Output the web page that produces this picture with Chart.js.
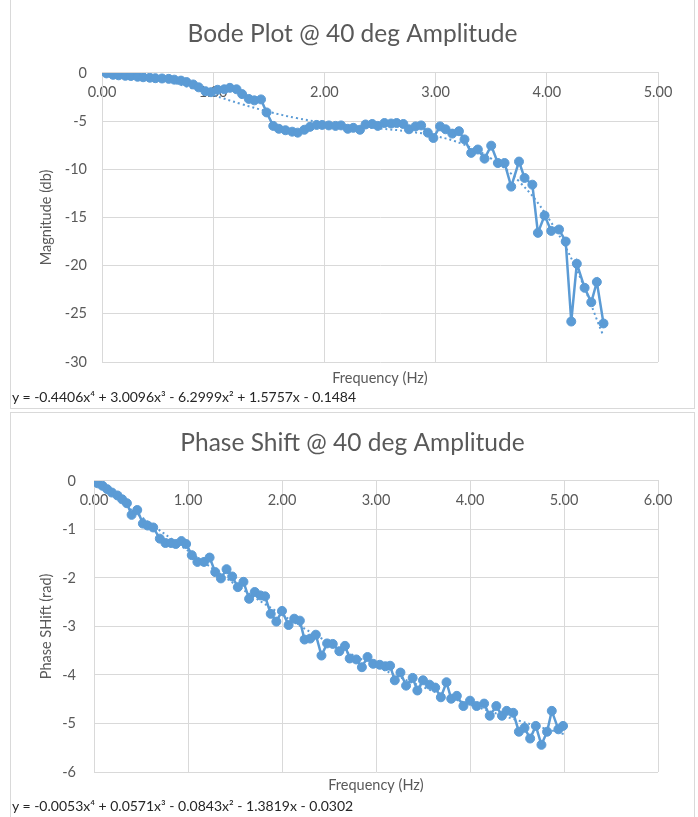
<!DOCTYPE html>
<html>
<head>
<meta charset="utf-8">
<title>Bode Plot @ 40 deg Amplitude</title>
<script src="https://cdn.jsdelivr.net/npm/chart.js@4.4.1/dist/chart.umd.min.js"></script>
<style>
  body { margin: 0; width: 698px; height: 817px; background: #fff; position: relative; overflow: hidden; font-family: Lato, sans-serif; }
  .frame { position: absolute; left: 10px; width: 685px; border: 1px solid #d9d9d9; box-sizing: border-box; }
  #frameTop { top: -1px; height: 410px; }
  #frameBot { top: 412px; height: 410px; }
  canvas { position: absolute; left: 10px; }
  #magChart { top: 0; }
  #phaseChart { top: 412px; }
  .eq { position: absolute; left: 12px; font-size: 14px; color: #262626; white-space: nowrap; line-height: 16px; }
</style>
</head>
<body>
<div class="frame" id="frameTop"></div>
<div class="frame" id="frameBot"></div>
<canvas id="magChart" width="685" height="408"></canvas>
<canvas id="phaseChart" width="685" height="405"></canvas>
<div class="eq" style="top:389px">y = -0.4406x⁴ + 3.0096x³ - 6.2999x² + 1.5757x - 0.1484</div>
<div class="eq" style="top:798px">y = -0.0053x⁴ + 0.0571x³ - 0.0843x² - 1.3819x - 0.0302</div>
<script>
// magnitude data (Hz, db)
const freqTop = [0.04,0.10,0.15,0.21,0.26,0.32,0.37,0.43,0.48,0.54,
  0.60,0.65,0.71,0.76,0.82,0.87,0.93,0.98,1.04,1.10,
  1.15,1.21,1.26,1.32,1.37,1.43,1.48,1.54,1.59,1.65,
  1.71,1.76,1.82,1.87,1.93,1.98,2.04,2.10,2.15,2.21,
  2.26,2.32,2.37,2.43,2.48,2.54,2.60,2.65,2.71,2.76,
  2.82,2.87,2.93,2.98,3.04,3.09,3.15,3.21,3.26,3.32,
  3.38,3.44,3.50,3.56,3.62,3.68,3.75,3.80,3.87,3.92,
  3.98,4.04,4.11,4.17,4.22,4.27,4.34,4.40,4.45,4.51];
const magTop = [-0.05,-0.20,-0.25,-0.30,-0.32,-0.40,-0.45,-0.50,-0.55,-0.58,
  -0.62,-0.70,-0.80,-0.95,-1.20,-1.50,-1.90,-2.00,-1.75,-1.70,
  -1.55,-1.70,-2.20,-2.70,-2.85,-2.75,-4.10,-5.50,-5.80,-5.95,
  -6.10,-6.20,-5.90,-5.60,-5.40,-5.40,-5.45,-5.50,-5.45,-5.80,
  -5.70,-5.90,-5.35,-5.30,-5.50,-5.20,-5.25,-5.20,-5.30,-5.85,
  -5.55,-5.45,-6.20,-6.75,-5.55,-5.85,-6.30,-6.05,-6.90,-8.30,
  -7.95,-8.90,-7.55,-9.35,-9.35,-11.80,-9.20,-10.90,-11.60,-16.60,
  -14.80,-16.40,-16.25,-17.50,-25.80,-19.80,-22.30,-23.80,-21.70,-26.00];

// 4th order trendline, read at 0.25 Hz steps
const trendTopX = [0,0.25,0.5,0.75,1,1.25,1.5,1.75,2,2.25,2.5,2.75,3,3.25,3.5,3.75,4,4.25,4.5];
const trendTopY = [-0.15,-0.10,-0.59,-1.38,-2.30,-3.22,-4.03,-4.69,-5.17,-5.51,-5.77,-6.07,-6.55,-7.41,-8.89,-11.25,-14.82,-19.96,-27.05];

// phase data (Hz, rad)
const freqBot = [0.04,0.09,0.14,0.19,0.25,0.30,0.35,0.40,0.46,0.52,
  0.57,0.63,0.70,0.76,0.82,0.87,0.93,0.98,1.04,1.10,
  1.17,1.23,1.29,1.35,1.41,1.47,1.53,1.59,1.65,1.71,
  1.77,1.82,1.88,1.94,2.00,2.07,2.13,2.19,2.24,2.30,
  2.36,2.42,2.48,2.54,2.61,2.67,2.72,2.79,2.85,2.91,
  2.97,3.04,3.10,3.15,3.20,3.26,3.32,3.39,3.44,3.50,
  3.57,3.63,3.69,3.75,3.80,3.86,3.93,4.00,4.07,4.15,
  4.21,4.28,4.34,4.39,4.46,4.52,4.58,4.64,4.70,4.76,
  4.82,4.87,4.94,4.99];
const phaseBot = [-0.05,-0.10,-0.17,-0.24,-0.30,-0.38,-0.46,-0.70,-0.60,-0.88,
  -0.92,-0.96,-1.19,-1.28,-1.28,-1.30,-1.24,-1.30,-1.53,-1.67,
  -1.67,-1.58,-1.88,-2.01,-1.82,-1.97,-2.19,-2.08,-2.43,-2.29,
  -2.36,-2.38,-2.74,-2.90,-2.68,-2.97,-2.84,-2.88,-3.27,-3.25,
  -3.17,-3.60,-3.35,-3.36,-3.51,-3.40,-3.66,-3.68,-3.84,-3.63,
  -3.77,-3.79,-3.82,-3.81,-4.11,-3.95,-4.22,-4.06,-4.32,-4.11,
  -4.20,-4.26,-4.46,-4.15,-4.49,-4.43,-4.64,-4.53,-4.64,-4.59,
  -4.84,-4.64,-4.84,-4.74,-4.78,-5.17,-5.09,-5.31,-5.05,-5.44,
  -5.17,-4.74,-5.12,-5.05];

const trendBotX = [0,0.5,1,1.5,2,2.5,3,3.5,4,4.5,5];
const trendBotY = [-0.03,-0.74,-1.44,-2.13,-2.76,-3.33,-3.82,-4.25,-4.61,-4.93,-5.22];

const blue = "#5b9bd5";
const gridColor = "#d9d9d9";
const textColor = "#595959";

Chart.defaults.font.family = "Lato, 'Open Sans', sans-serif";
Chart.defaults.color = textColor;

function toPoints(xs, ys) {
  return xs.map((x, i) => ({ x: x, y: ys[i] }));
}

function makeChart(id, o) {
  const ctx = document.getElementById(id).getContext("2d");
  return new Chart(ctx, {
    type: "line",
    data: {
      datasets: [{
        data: toPoints(o.xs, o.ys),
        borderColor: blue,
        backgroundColor: blue,
        borderWidth: 2.5,
        pointRadius: 4.5,
        pointBorderWidth: 1,
        tension: 0
      }, {
        data: toPoints(o.tx, o.ty),
        borderColor: blue,
        borderWidth: 2,
        borderDash: [2, 3],
        pointRadius: 0,
        tension: 0.4
      }]
    },
    options: {
      responsive: false,
      animation: false,
      layout: { padding: 0 },
      plugins: {
        legend: { display: false },
        tooltip: { enabled: false },
        title: {
          display: true,
          text: o.title,
          color: textColor,
          font: { size: 24.5, weight: "normal" },
          padding: o.titlePad
        }
      },
      scales: {
        x: {
          type: "linear",
          position: { y: 0 },
          min: 0,
          max: o.xMax,
          ticks: {
            stepSize: 1,
            padding: 11,
            font: { size: 14.5 },
            callback: v => v.toFixed(2)
          },
          grid: { color: gridColor, drawTicks: false },
          border: { color: gridColor }
        },
        xt: {
          type: "linear",
          position: "bottom",
          ticks: { display: false },
          grid: { display: false },
          border: { display: false },
          title: {
            display: true,
            text: "Frequency (Hz)",
            font: { size: 14.5 },
            padding: { top: 0, bottom: o.xTitlePad }
          },
          afterFit: s => { s.height = o.bottomH; }
        },
        y: {
          min: o.yMin,
          max: 0,
          ticks: { stepSize: o.yStep, padding: o.yTickPad, font: { size: 14.5 } },
          grid: { color: gridColor, drawTicks: false },
          border: { color: gridColor },
          title: {
            display: true,
            text: o.yTitle,
            font: { size: 14.5 },
            padding: { top: 28, bottom: 0 }
          },
          afterFit: s => { s.width = o.leftW; }
        },
        yr: {
          position: "right",
          ticks: { display: false },
          grid: { display: false },
          border: { display: false },
          afterFit: s => { s.width = 37; }
        }
      }
    }
  });
}

window.onload = () => {
  makeChart("magChart", {
    xs: freqTop, ys: magTop, tx: trendTopX, ty: trendTopY,
    title: "Bode Plot @ 40 deg Amplitude",
    titlePad: { top: 19, bottom: 24.5 },
    xMax: 5, yMin: -30, yStep: 5,
    yTitle: "Magnitude (db)",
    leftW: 92, yTickPad: 15,
    bottomH: 46, xTitlePad: 21
  });
  makeChart("phaseChart", {
    xs: freqBot, ys: phaseBot, tx: trendBotX, ty: trendBotY,
    title: "Phase Shift @ 40 deg Amplitude",
    titlePad: { top: 16, bottom: 23.5 },
    xMax: 6, yMin: -6, yStep: 1,
    yTitle: "Phase SHift (rad)",
    leftW: 84, yTickPad: 18,
    bottomH: 45, xTitlePad: 23
  });
};
</script>
</body>
</html>
